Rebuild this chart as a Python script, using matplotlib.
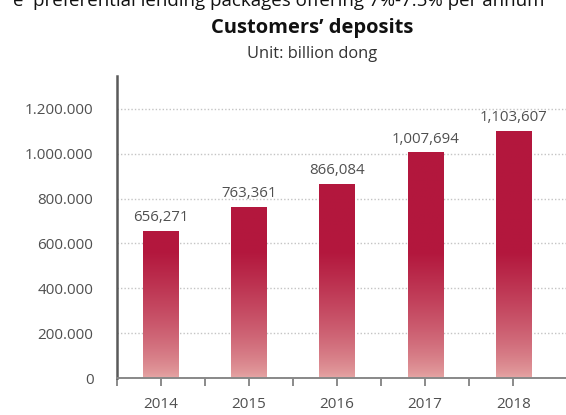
import numpy as np
import matplotlib
matplotlib.use("Agg")
import matplotlib.pyplot as plt
from matplotlib.ticker import FuncFormatter, FixedLocator

plt.rcParams['font.family'] = ['Open Sans', 'DejaVu Sans']

# Data
years = ["2014", "2015", "2016", "2017", "2018"]
deposits = [656271, 763361, 866084, 1007694, 1103607]
y_ticks = [0, 200000, 400000, 600000, 800000, 1000000, 1200000]

W, H = 566, 415
fig = plt.figure(figsize=(W / 100, H / 100), dpi=100)
fig.patch.set_facecolor("white")

left, right, bottom, top = 117, 566, 378, 76
ax = fig.add_axes([left / W, (H - bottom) / H, (right - left) / W, (bottom - top) / H])

x = np.arange(len(years))
bar_w = 0.4
ymax = 1347000

bars = ax.bar(x, deposits, width=bar_w, color="none", edgecolor="none", zorder=2)

# vertical gradient: deep crimson at the top, fading to pink toward zero
crimson = np.array([179, 23, 61]) / 255
pink = np.array([230, 168, 166]) / 255
ys = np.linspace(0, ymax, 400)
t = np.clip(ys / 560000, 0, 1) ** 0.7
cols = pink[None, :] + (crimson - pink)[None, :] * t[:, None]
grad = np.repeat(cols[:, None, :], 2, axis=1)
for rect in bars:
    im = ax.imshow(grad, extent=[rect.get_x(), rect.get_x() + rect.get_width(), 0, ymax],
                   origin="lower", aspect="auto", zorder=2, interpolation="bilinear")
    im.set_clip_path(rect)

for xi, v in zip(x, deposits):
    ax.annotate(f"{v:,}", (xi, v), xytext=(0, 4), textcoords="offset points",
                ha="center", va="bottom", fontsize=10.8, color="#505050", zorder=3)

ax.set_xlim(-0.5, 4.6)
ax.set_ylim(0, ymax)

ax.set_yticks(y_ticks)
ax.yaxis.set_major_formatter(FuncFormatter(lambda v, p: f"{int(v):,}".replace(",", ".")))
ax.tick_params(axis="y", length=0, pad=17, labelsize=11, labelcolor="#505050")
ax.yaxis.grid(True, linestyle=(0, (1, 1.5)), color="#c4c4c4", linewidth=1.0, zorder=0)
ax.set_axisbelow(True)

ax.set_xticks(x)
ax.set_xticklabels(years)
ax.xaxis.set_minor_locator(FixedLocator([-0.5, 0.5, 1.5, 2.5, 3.5]))
ax.tick_params(axis="x", which="both", direction="out", length=6, width=1.2,
               color="#777777", labelsize=11, labelcolor="#505050", pad=8)

for s in ("top", "right"):
    ax.spines[s].set_visible(False)
ax.spines["left"].set_color("#5a5a5a")
ax.spines["left"].set_linewidth(1.8)
ax.spines["bottom"].set_color("#888888")
ax.spines["bottom"].set_linewidth(1.4)

fig.text(312 / W, 1 - 28 / H, "Customers\u2019 deposits", ha="center", va="center",
         fontsize=14.5, fontweight="bold", color="#111111")
fig.text(312 / W, 1 - 54 / H, "Unit: billion dong", ha="center", va="center",
         fontsize=11.8, color="#333333")

# last line of the preceding paragraph, running off the top edge
fig.text(13 / W, 1 - 6 / H, "e", ha="left", va="baseline", fontsize=13.5, color="#111111")
fig.text(33 / W, 1 - 6 / H, "preferential lending packages offering 7%-7.5% per annum",
         ha="left", va="baseline", fontsize=13.5, color="#111111")

fig.savefig("out.png", dpi=100, facecolor="white")
